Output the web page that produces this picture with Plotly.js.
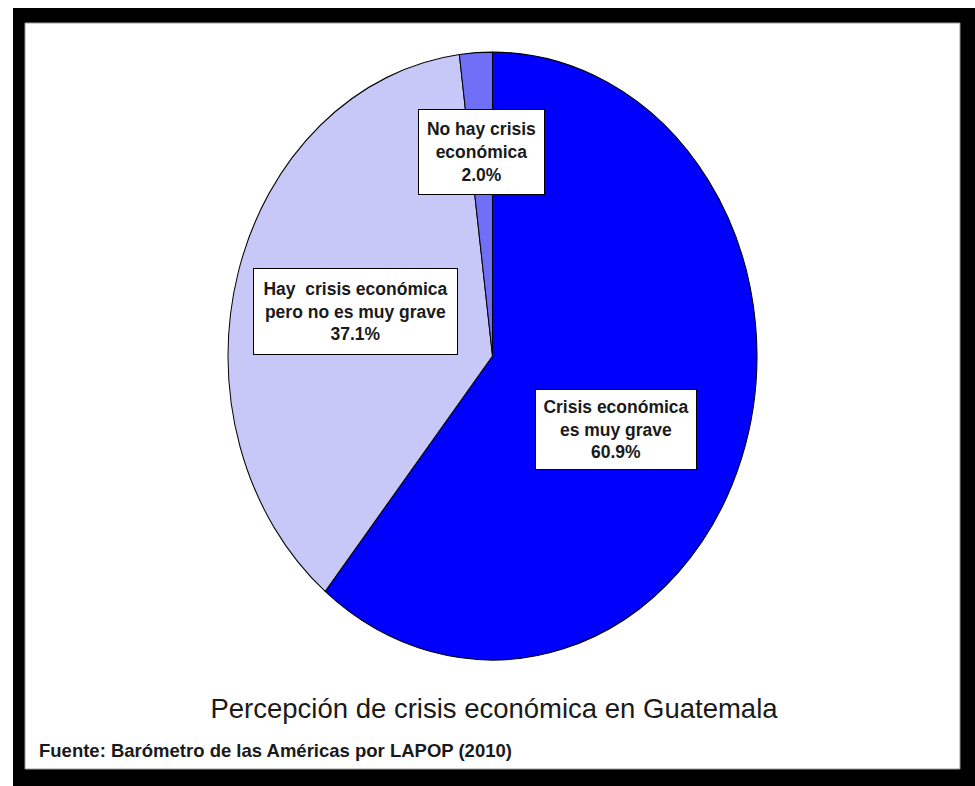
<!DOCTYPE html>
<html>
<head>
<meta charset="utf-8">
<script src="https://cdn.plot.ly/plotly-3.0.1.min.js"></script>
<style>
  html, body { margin: 0; padding: 0; background: #ffffff; }
  #chart { width: 975px; height: 786px; }
  /* the original pie is drawn slightly taller than wide */
  #chart .pielayer { transform-origin: 0px 356px; transform: scaleY(1.149); }
</style>
</head>
<body>
<div id="chart"></div>
<script>
// ---- data ----
const sliceLabels = [
  "Crisis económica es muy grave",
  "Hay crisis económica pero no es muy grave",
  "No hay crisis económica"
];
const sliceValues = [60.9, 37.1, 2.0];
const boxLabels = [
  "Crisis económica<br>es muy grave",
  "Hay\u00a0 crisis económica<br>pero no es muy grave",
  "No hay crisis<br>económica"
];
const chartTitle = "Percepción de crisis económica en Guatemala";
const sourceNote = "Fuente: Barómetro de las Américas por LAPOP (2010)";

// ---- layout helpers ----
const W = 975, H = 786;
const px = x => x / W;
const py = y => (H - y) / H;

const sliceColors = ["#0000FF", "#C8C8F8", "#6F6FF7"];
// label boxes: centre x, centre y, width, height (pixels)
const boxGeom = [
  [616, 429.5, 162, 81],
  [355.5, 311.5, 205, 87],
  [481.5, 152, 127, 86]
];

const total = sliceValues.reduce((a, b) => a + b, 0);
const annotations = sliceValues.map((v, i) => ({
  text: boxLabels[i] + "<br>" + (100 * v / total).toFixed(1) + "%",
  xref: "paper", yref: "paper",
  x: px(boxGeom[i][0]), y: py(boxGeom[i][1]),
  xanchor: "center", yanchor: "middle",
  width: boxGeom[i][2] - 2, height: boxGeom[i][3] - 2,
  showarrow: false,
  bgcolor: "#ffffff", bordercolor: "#000000", borderwidth: 1, borderpad: 0,
  align: "center", valign: "middle",
  font: { family: "Liberation Sans, Arial, sans-serif", size: 17.5, color: "#1a1a1a", weight: "bold" }
}));

annotations.push({
  text: sourceNote,
  xref: "paper", yref: "paper",
  x: px(37), y: py(750), xanchor: "left", yanchor: "middle",
  showarrow: false,
  font: { family: "Liberation Sans, Arial, sans-serif", size: 18.5, color: "#1a1a1a", weight: "bold" }
});

const data = [{
  type: "pie",
  labels: sliceLabels,
  values: sliceValues,
  sort: false,
  direction: "clockwise",
  rotation: 0,
  textinfo: "none",
  hoverinfo: "label+percent",
  marker: { colors: sliceColors, line: { color: "#000000", width: 1 } },
  domain: { x: [px(228), px(757)], y: [py(356 + 264.5), py(356 - 264.5)] },
  showlegend: false
}];

const layout = {
  width: W, height: H,
  margin: { l: 0, r: 0, t: 0, b: 0 },
  paper_bgcolor: "#ffffff",
  plot_bgcolor: "#ffffff",
  showlegend: false,
  title: {
    text: chartTitle,
    xref: "paper", yref: "paper",
    x: px(494), y: py(708), xanchor: "center", yanchor: "middle",
    font: { family: "Liberation Sans, Arial, sans-serif", size: 27.5, color: "#1a1a1a" }
  },
  shapes: [
    { type: "rect", xref: "paper", yref: "paper", layer: "below",
      x0: px(13), x1: px(975), y0: py(786), y1: py(8),
      fillcolor: "#000000", line: { width: 0 } },
    { type: "rect", xref: "paper", yref: "paper", layer: "below",
      x0: px(25), x1: px(960), y0: py(769), y1: py(23),
      fillcolor: "#ffffff", line: { color: "#9a9a9a", width: 1 } }
  ],
  annotations: annotations
};

Plotly.newPlot("chart", data, layout, { displayModeBar: false, staticPlot: true });
</script>
</body>
</html>
